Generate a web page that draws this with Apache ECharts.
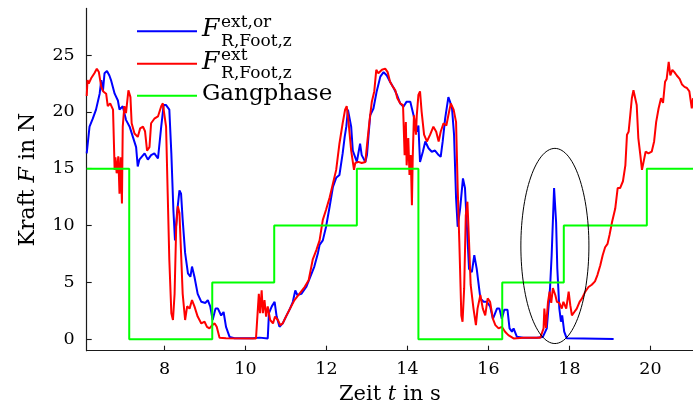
<!DOCTYPE html>
<html>
<head>
<meta charset="utf-8">
<script src="https://cdn.jsdelivr.net/npm/echarts@6/dist/echarts.min.js"></script>
<style>
  html, body { margin: 0; padding: 0; background: #ffffff; }
  #chart { width: 693px; height: 415px; }
</style>
</head>
<body>
<div id="chart"></div>
<script>
// Measured (original) vertical force on the right foot, in N over time in s
const timeOr = [6.08,6.15,6.23,6.31,6.40,6.44,6.48,6.52,6.58,6.64,6.68,6.77,6.85,6.89,6.97,7.05,7.14,7.22,7.30,7.34,7.38,7.51,7.59,7.67,7.75,7.84,7.92,7.98,8.04,8.12,8.17,8.22,8.26,8.31,8.37,8.41,8.45,8.51,8.58,8.64,8.68,8.74,8.82,8.91,9.01,9.07,9.13,9.19,9.26,9.32,9.40,9.46,9.52,9.61,9.73,10.18,10.35,10.55,10.58,10.65,10.72,10.77,10.84,10.92,11.00,11.10,11.17,11.23,11.28,11.38,11.50,11.60,11.70,11.79,11.83,11.91,11.99,12.08,12.16,12.24,12.32,12.40,12.45,12.49,12.53,12.57,12.61,12.65,
  12.75,12.83,12.87,12.96,13.00,13.04,13.08,13.16,13.24,13.33,13.41,13.49,13.57,13.66,13.74,13.82,13.90,13.98,14.07,14.15,14.23,14.27,14.31,14.38,14.44,14.52,14.60,14.68,14.77,14.82,14.87,14.93,15.01,15.05,15.10,15.15,15.20,15.24,15.30,15.37,15.42,15.47,15.52,15.59,15.65,15.71,15.80,15.88,15.96,16.04,16.11,16.21,16.27,16.33,16.39,16.47,16.52,16.58,16.62,16.70,16.86,17.19,17.34,17.44,17.52,17.56,17.62,17.67,17.70,17.75,17.79,17.82,17.87,17.93,18.35,19.09];
const forceOr = [16.35,18.7,19.4,20.2,21.6,22.8,21.8,23.4,23.6,23.2,22.8,21.6,21.0,20.2,20.5,19.3,18.7,17.8,16.9,15.2,15.8,16.35,15.8,16.2,16.35,15.9,18.7,20.6,20.6,20.2,16.35,11.4,8.7,11.1,13.1,12.8,10.5,7.6,5.8,5.5,6.4,5.5,4.0,3.3,3.2,3.45,2.9,1.7,2.7,2.7,2.1,2.4,1.1,0.2,0.1,0.1,0.15,0.08,2.3,2.9,3.3,2.0,1.1,1.4,2.0,2.7,3.3,4.3,3.9,4.0,4.6,5.5,6.4,7.6,8.3,8.7,9.9,11.7,13.4,14.2,14.45,16.35,17.8,18.7,20.2,20.2,18.7,16.6,
  15.6,17.2,16.2,15.6,16.2,18.0,19.7,20.3,21.8,23.1,23.5,23.2,22.65,22.1,21.5,20.75,20.45,20.9,20.9,19.7,18.25,18.8,15.6,16.5,17.4,16.8,16.5,16.6,16.2,16.05,17.4,19.4,21.3,20.9,20.3,18.0,12.4,9.9,11.5,14.15,13.3,9.75,6.2,5.9,7.4,6.2,3.6,3.3,3.3,2.9,1.8,2.7,2.7,1.8,2.6,2.6,0.96,0.67,0.96,0.23,0.14,0.14,0.2,0.96,4.5,7.4,13.3,10.3,6.2,2.7,1.55,2.1,0.67,0.1,0.08,0.02];

// Estimated vertical force on the right foot
const timeExt = [6.08,6.10,6.13,6.19,6.27,6.33,6.38,6.44,6.49,6.56,6.60,6.66,6.73,6.77,6.79,6.82,6.86,6.89,6.92,6.95,6.97,7.01,7.05,7.11,7.16,7.19,7.26,7.34,7.40,7.47,7.52,7.57,7.63,7.67,7.75,7.84,7.92,7.96,8.00,8.04,8.08,8.12,8.17,8.21,8.25,8.29,8.33,8.37,8.41,8.45,8.51,8.56,8.62,8.68,8.74,8.82,8.91,8.99,9.05,9.11,9.18,9.24,9.29,9.36,9.52,10.26,10.31,10.33,10.36,10.40,10.43,10.47,10.51,10.55,10.61,10.68,10.73,10.80,10.86,10.92,11.00,11.10,11.21,11.33,11.46,11.56,11.66,11.75,11.83,11.91,11.99,12.08,12.16,12.24,12.32,12.40,12.46,12.50,12.54,12.61,12.68,
  12.71,12.79,12.87,12.96,13.01,13.06,13.12,13.18,13.23,13.28,13.37,13.45,13.51,13.57,13.64,13.70,13.75,13.82,13.89,13.93,13.96,13.98,14.02,14.05,14.08,14.11,14.13,14.16,14.21,14.23,14.27,14.31,14.35,14.41,14.48,14.56,14.64,14.71,14.77,14.82,14.89,14.96,15.01,15.07,15.14,15.20,15.24,15.28,15.33,15.36,15.40,15.44,15.48,15.52,15.56,15.63,15.69,15.73,15.80,15.86,15.92,15.98,16.04,16.11,16.17,16.25,16.33,16.41,16.49,16.62,16.86,17.28,17.36,17.38,17.42,17.47,17.51,17.55,17.59,17.65,17.69,17.75,17.81,17.85,17.92,17.98,18.02,18.06,18.12,18.18,18.25,18.31,18.39,18.47,18.55,18.63,18.69,18.76,18.82,18.88,18.94,18.99,19.05,19.13,19.19,19.25,19.32,19.38,19.42,19.46,19.50,19.54,19.58,19.62,19.66,19.70,19.75,19.79,19.83,19.88,19.95,20.03,20.09,20.14,20.20,20.26,20.31,20.36,20.40,20.45,20.49,20.54,20.59,20.65,20.72,20.78,20.84,20.90,20.96,21.02,21.05];
const forceExt = [21.4,22.8,22.5,22.95,23.4,23.8,23.5,22.2,21.8,21.6,20.5,20.75,20.2,14.9,16.0,14.6,16.1,12.8,16.0,11.95,18.7,20.5,19.9,21.9,21.3,19.0,18.1,17.8,18.55,18.7,18.3,16.6,16.9,19.0,19.4,19.6,20.5,20.75,19.7,18.7,12.8,7.0,2.3,1.7,4.0,9.9,11.7,11.1,7.6,4.0,1.7,2.9,2.7,3.45,2.9,2.0,1.4,1.55,1.1,0.96,1.25,1.4,1.1,0.14,0.1,0.08,2.9,4.0,2.3,4.3,2.3,3.45,2.0,2.9,1.7,1.4,2.0,1.7,1.25,1.4,2.0,2.7,3.45,4.0,4.6,5.2,7.0,7.85,8.7,10.5,11.4,12.5,13.7,14.9,17.2,19.0,20.2,20.5,19.3,16.6,14.9,
  15.5,15.6,15.5,15.6,17.4,19.1,20.9,21.8,23.7,23.4,23.7,23.8,23.5,22.65,22.2,21.9,21.2,20.75,20.6,16.2,19.1,15.3,17.7,14.45,16.2,11.8,16.0,19.7,18.0,19.7,21.5,21.8,20.0,18.0,17.4,18.0,18.7,18.25,17.4,18.25,19.0,18.8,19.7,20.75,20.2,19.1,13.3,8.6,2.1,1.55,4.5,10.9,12.1,8.6,4.8,2.7,1.25,2.7,3.9,2.7,2.1,3.6,3.3,1.8,1.25,0.96,1.1,0.67,0.37,0.08,0.14,0.14,0.96,2.7,1.0,3.3,4.2,3.2,4.5,3.9,3.3,3.2,2.7,3.3,2.7,4.2,3.0,2.1,2.4,2.7,3.3,3.6,4.2,4.6,4.8,5.1,5.65,6.5,7.4,8.1,8.4,9.2,10.3,11.5,13.3,13.3,13.9,15.3,18.0,18.25,19.7,21.2,21.9,21.8,20.6,17.7,16.2,14.9,15.6,16.5,16.35,16.5,17.4,19.1,20.3,21.2,20.8,22.65,22.9,24.4,23.2,23.7,23.5,23.2,22.9,22.4,22.2,22.1,21.8,20.3,21.2];

// Gait phase (step function, value held until the next change)
const phaseTime = [6.08, 7.13, 9.18, 10.71, 12.75, 14.27, 16.34, 17.86, 19.91, 21.05];
const phaseLevel = [15, 0, 5, 10, 15, 0, 5, 10, 15, 15];

// Axis ticks
const xTicks = [8, 10, 12, 14, 16, 18, 20];
const yTicks = [0, 5, 10, 15, 20, 25];

// Highlighted region: centre (t, F) and half-axes (dt, dF)
const highlight = [[17.64, 8.21, 0.84, 8.58]];

const SERIF = '"DejaVu Serif", "Liberation Serif", serif';
const zip = (a, b) => a.map((v, i) => [v, b[i]]);

// Legend labels: symbol F with stacked super- and subscript, one text line each
const names = ['forceOr', 'forceExt', 'phase'];
const legendText = {
  forceOr: '{F|F}{sup|ext,or}{sub|R,Foot,z}',
  forceExt: '{F|F}{sup|ext}{sub|R,Foot,z}',
  phase: '{g|Gangphase}'
};

const axisColor = '#1a1a1a';

const chart = echarts.init(document.getElementById('chart'), null, { renderer: 'canvas' });
chart.setOption({
  animation: false,
  backgroundColor: '#ffffff',
  grid: {
    left: 86.7, top: 8.4, width: 606.3, height: 342.3,
    outerBoundsMode: 'none'
  },
  legend: {
    data: names,
    orient: 'vertical',
    left: 137, top: 14.1,
    padding: 0,
    itemGap: -3,
    itemWidth: 60,
    itemHeight: 2,
    icon: 'rect',
    selectedMode: false,
    formatter: (name) => legendText[name],
    textStyle: {
      fontFamily: SERIF,
      color: '#000',
      rich: {
        F: { fontFamily: SERIF, fontStyle: 'italic', fontSize: 25, width: 19, lineHeight: 33, height: 30.3, verticalAlign: 'top', color: '#000' },
        sup: { fontFamily: SERIF, fontSize: 17, width: 0.1, lineHeight: 33, height: 15.9, verticalAlign: 'top', color: '#000' },
        sub: { fontFamily: SERIF, fontSize: 17, lineHeight: 33, height: 12.9, verticalAlign: 'bottom', color: '#000' },
        g: { fontFamily: SERIF, fontSize: 23, lineHeight: 33, height: 30.4, verticalAlign: 'top', color: '#000' }
      }
    }
  },
  xAxis: {
    type: 'value',
    min: 6.08, max: 21.05,
    name: 'Zeit {i|t} in s',
    nameLocation: 'middle',
    nameGap: 26,
    nameTextStyle: {
      fontFamily: SERIF, fontSize: 21, color: '#000', verticalAlign: 'top',
      rich: { i: { fontFamily: SERIF, fontStyle: 'italic', fontSize: 21, color: '#000' } }
    },
    axisLine: { show: true, onZero: false, lineStyle: { color: axisColor, width: 1.2 } },
    axisTick: { show: true, inside: true, length: 5, customValues: xTicks, lineStyle: { color: axisColor, width: 1.1 } },
    axisLabel: { customValues: xTicks, margin: 10, fontFamily: SERIF, fontSize: 17.5, color: '#000' },
    splitLine: { show: false }
  },
  yAxis: {
    type: 'value',
    min: -1, max: 29.1,
    name: 'Kraft {i|F} in N',
    nameLocation: 'middle',
    nameRotate: 90,
    nameGap: 47,
    nameTextStyle: {
      fontFamily: SERIF, fontSize: 22, color: '#000',
      rich: { i: { fontFamily: SERIF, fontStyle: 'italic', fontSize: 22, color: '#000' } }
    },
    axisLine: { show: true, onZero: false, lineStyle: { color: axisColor, width: 1.2 } },
    axisTick: { show: true, inside: true, length: 5, customValues: yTicks, lineStyle: { color: axisColor, width: 1.1 } },
    axisLabel: { customValues: yTicks, margin: 12, fontFamily: SERIF, fontSize: 17.5, color: '#000' },
    splitLine: { show: false }
  },
  series: [
    {
      name: 'forceOr', type: 'line', data: zip(timeOr, forceOr),
      symbol: 'none', lineStyle: { color: '#0000ff', width: 2 }, itemStyle: { color: '#0000ff' }, z: 2
    },
    {
      name: 'forceExt', type: 'line', data: zip(timeExt, forceExt),
      symbol: 'none', lineStyle: { color: '#ff0000', width: 2 }, itemStyle: { color: '#ff0000' }, z: 3
    },
    {
      name: 'phase', type: 'line', step: 'end', data: zip(phaseTime, phaseLevel),
      symbol: 'none', lineStyle: { color: '#00ff00', width: 2 }, itemStyle: { color: '#00ff00' }, z: 4
    },
    {
      name: 'highlight', type: 'custom', data: highlight, z: 5,
      encode: { x: 0, y: 1 },
      renderItem: (params, api) => {
        const t0 = api.value(0), f0 = api.value(1), dt = api.value(2), df = api.value(3);
        const c = api.coord([t0, f0]);
        const e = api.coord([t0 + dt, f0 + df]);
        const rx = e[0] - c[0], ry = c[1] - e[1];
        const pts = [];
        for (let k = 0; k < 120; k++) {
          const a = (k / 120) * Math.PI * 2;
          pts.push([c[0] + rx * Math.cos(a), c[1] + ry * Math.sin(a)]);
        }
        return {
          type: 'polygon',
          shape: { points: pts },
          style: { fill: 'none', stroke: '#000', lineWidth: 1 }
        };
      }
    }
  ]
});
</script>
</body>
</html>
